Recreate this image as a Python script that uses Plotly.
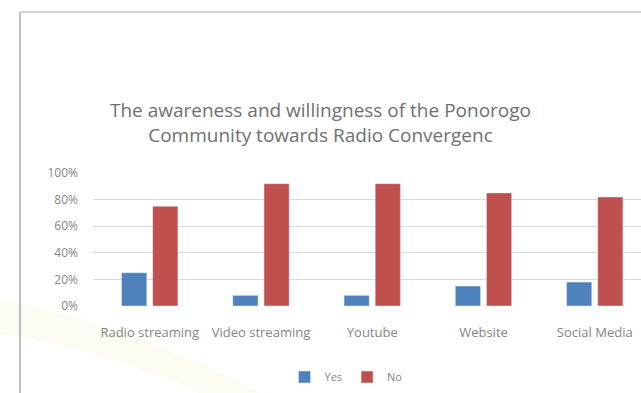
import plotly.graph_objects as go

categories = ["Radio streaming", "Video streaming", "Youtube", "Website", "Social Media"]
yes_values = [25, 8, 8, 15, 18]
no_values = [75, 92, 92, 85, 82]
y_ticks = [0, 20, 40, 60, 80, 100]
y_tick_labels = [f"{v}%" for v in y_ticks]
title_text = "The awareness and willingness of the Ponorogo<br>Community towards Radio Convergenc"

W, H = 641, 393
L, R, T, B = 93, 0, 173, 87

FONT = "Open Sans"
GRAY = "#858585"

fig = go.Figure()
fig.add_trace(go.Bar(name="Yes", x=categories, y=yes_values, marker_color="#4F81BD"))
fig.add_trace(go.Bar(name="No", x=categories, y=no_values, marker_color="#C0504D"))

pw = W - L - R
ph = H - T - B


def px_x(p):
    return (p - L) / pw


def px_y(p):
    return (H - B - p) / ph


fig.update_layout(
    width=W, height=H,
    margin=dict(l=L, r=R, t=T, b=B, pad=0),
    paper_bgcolor="white", plot_bgcolor="rgba(0,0,0,0)",
    barmode="group", bargap=0.44, bargroupgap=0.19,
    font=dict(family=FONT, color=GRAY, size=11),
    title=dict(text=title_text, x=0.5, xanchor="center", xref="container",
               y=1 - 117 / H, yanchor="middle", yref="container",
               font=dict(family=FONT, size=19, color="#707070")),
    showlegend=True,
    legend=dict(orientation="h", x=px_x(346), xanchor="center", y=px_y(377), yanchor="middle",
                font=dict(size=11, color=GRAY), itemwidth=30, traceorder="normal",
                bgcolor="rgba(0,0,0,0)"),
    xaxis=dict(range=[-0.51, -0.51 + pw / 111.25], showgrid=False, zeroline=False,
               showline=False, ticks="", tickfont=dict(size=13, color=GRAY), ticklabelstandoff=17),
    yaxis=dict(range=[0, 100], tickvals=y_ticks, ticktext=y_tick_labels, showgrid=True,
               gridcolor="#d9d9d9", gridwidth=1, zeroline=False, showline=False,
               ticks="", tickfont=dict(size=12, color=GRAY), ticklabelstandoff=14),
    shapes=[
        dict(type="path", xref="paper", yref="paper", layer="below",
             path=(f"M {px_x(0)},{px_y(300)} C {px_x(80)},{px_y(310)} {px_x(200)},{px_y(360)} {px_x(260)},{px_y(393)} "
                   f"L {px_x(200)},{px_y(393)} C {px_x(150)},{px_y(370)} {px_x(60)},{px_y(340)} {px_x(0)},{px_y(335)} Z"),
             fillcolor="#fdfbf1", line=dict(width=0)),
        dict(type="line", xref="paper", yref="paper", x0=px_x(20), x1=px_x(20), y0=px_y(12), y1=px_y(393),
             line=dict(color="#bdbdbd", width=2)),
        dict(type="line", xref="paper", yref="paper", x0=px_x(20), x1=px_x(641), y0=px_y(12), y1=px_y(12),
             line=dict(color="#d4d4d4", width=2)),
    ],
)

fig.write_html("out.html")
